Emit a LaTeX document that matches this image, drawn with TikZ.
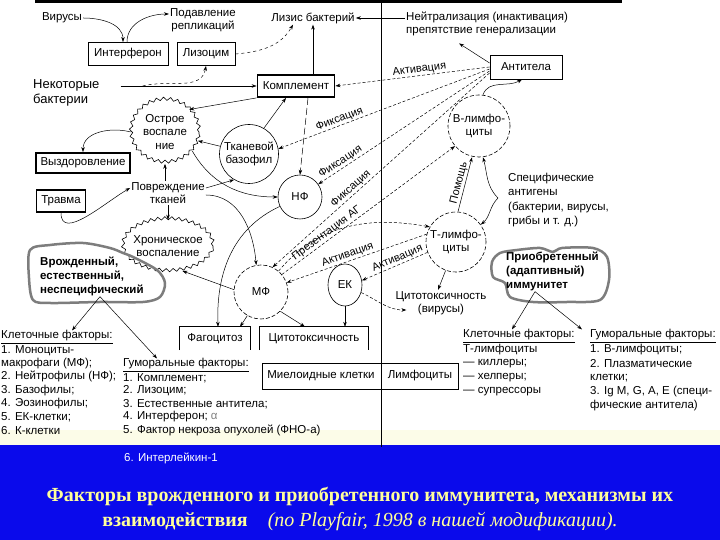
\documentclass[tikz,border=0pt]{standalone}
\usepackage{fontspec}
\setmainfont{Liberation Sans}
\newfontfamily\titlefont{Liberation Serif}
\usepackage{xcolor}
\usepackage{tikz}
\usetikzlibrary{arrows.meta,decorations.pathmorphing,shapes.geometric}

\definecolor{slideblue}{RGB}{10,10,235}
\definecolor{titleyellow}{RGB}{255,255,155}
\definecolor{blobgray}{RGB}{125,125,125}
\definecolor{paleyellow}{RGB}{252,252,232}

\tikzset{
  box/.style={draw, line width=0.9pt, inner sep=2pt, minimum height=23pt},
  heavybox/.style={draw, line width=1.8pt, inner sep=2pt, minimum height=22pt},
  cell/.style={draw, circle, inner sep=0pt, align=center, line width=0.6pt},
  dcell/.style={cell, dash pattern=on 4pt off 2pt},
  txt/.style={align=center, inner sep=1pt},
  item/.style={anchor=west, inner sep=0pt},
  arr/.style={-{Stealth[length=5pt,width=3.5pt]}, line width=0.5pt},
  darr/.style={arr, dash pattern=on 3pt off 2pt},
  lbl/.style={font=\fontsize{11}{12}\selectfont, inner sep=1pt, sloped, above},
  blob/.style={draw=blobgray, line width=2.5pt, line join=round},
  wavy/.style={draw, ellipse, inner sep=0pt, align=center, line width=0.6pt, decorate,
    decoration={snake, amplitude=1.6pt, segment length=7pt}},
}

\begin{document}
\begin{tikzpicture}[x=1pt, y=1pt, font=\fontsize{11.5}{13.5}\selectfont]
\useasboundingbox (0,0) rectangle (720,540);
\fill[white] (0,0) rectangle (720,540);
\fill[paleyellow] (0,95) rectangle (720,110);
\fill[slideblue] (0,0) rectangle (720,95);
\draw[line width=3pt] (35,538.5) -- (622,538.5);
\draw[line width=0.8pt] (381,537) -- (381,93);

% top row
\node[txt] (virus) at (62,522) {Вирусы};
\node[txt] (podavl) at (203,520) {Подавление\\репликаций};
\node[txt] (lizis) at (313,522) {Лизис бактерий};
\node[txt, anchor=west, align=left] (neitr) at (405,516) {Нейтрализация (инактивация)\\препятствие генерализации};
\node[box, minimum width=80pt] (interf) at (128,486) {Интерферон};
\node[box, minimum width=58pt] (lizoc) at (206,486) {Лизоцим};
\node[txt, anchor=west, align=left, font=\fontsize{13}{15}\selectfont] (bakt) at (32,447) {Некоторые\\бактерии};
\node[heavybox, minimum width=77pt] (kompl) at (296,454) {Комплемент};
\node[box, minimum width=72pt, minimum height=24pt] (antit) at (526,473) {Антитела};

% innate side
\node[wavy, minimum width=68pt, minimum height=63pt] (ostr) at (165,408) {Острое\\воспале\\ние};
\node[heavybox, minimum width=94pt, minimum height=20pt] (vyzd) at (83,377) {Выздоровление};
\node[heavybox, minimum width=49pt] (travma) at (61,339) {Травма};
\node[txt] (povr) at (168,347) {Повреждение\\тканей};
\node[wavy, inner xsep=-6pt, minimum width=90pt, minimum height=52pt] (xron) at (168,294) {Хроническое\\воспаление};
\node[cell, minimum size=59pt] (bazo) at (249,386) {Тканевой\\базофил};
\node[cell, minimum size=44pt] (nf) at (300,343) {НФ};
\node[dcell, minimum size=54pt] (mf) at (261,248) {МФ};
\node[cell, ellipse, minimum width=34pt, minimum height=42pt] (ek) at (345,255) {ЕК};
\draw[blob] plot[smooth cycle] coordinates {(30,290) (50,295) (83,297) (110,292) (123,287) (133,283) (157,270) (165,257) (160,243) (143,238) (100,238) (50,237) (33,240) (29,262)};
\node[txt, anchor=west, align=left, font=\fontsize{11.5}{14}\selectfont\bfseries] (vrozh) at (39,264) {Врожденный,\\естественный,\\неспецифический};

% adaptive side
\node[dcell, minimum size=62pt] (blim) at (479,414) {В-лимфо-\\циты};
\node[dcell, minimum size=60pt] (tlim) at (456,298) {Т-лимфо-\\циты};
\node[txt, anchor=west, align=left, font=\fontsize{11.5}{14.5}\selectfont] (spec) at (507,340) {Специфические\\антигены\\(бактерии, вирусы,\\грибы и т. д.)};
\coordinate (specpt) at (498,342);
\node[txt] (cytovir) at (441,237) {Цитотоксичность\\(вирусы)};
\draw[blob] plot[smooth cycle] coordinates {(492,278) (500,287) (517,290) (540,292) (553,288) (562,292) (593,292) (607,283) (609,260) (600,240) (567,238) (533,238) (510,243) (505,257) (493,263)};
\node[txt, anchor=west, align=left, font=\fontsize{11.5}{14}\selectfont\bfseries] (priobr) at (505,269) {Приобретенный\\(адаптивный)\\иммунитет};

% effector boxes
\node[minimum width=70pt, minimum height=23pt] (fag) at (215,201.5) {Фагоцитоз};
\node[minimum width=108pt, minimum height=23pt] (cyto) at (314,201.5) {Цитотоксичность};
\draw[line width=0.8pt] (fag.south west) |- (fag.north east) -- (fag.south east);
\draw[line width=0.8pt] (cyto.south west) |- (cyto.north east) -- (cyto.south east);
\node[draw, line width=0.8pt, minimum width=196pt, minimum height=26pt] (kletki) at (360,164) {};
\node (mieloid) at (321,164) {Миелоидные клетки};
\node (limf) at (420,164) {Лимфоциты};

% factor lists
\foreach \t [count=\i] in {{\underline{Клеточные факторы:}}, {1. Моноциты-}, {макрофаги (МФ);}, {2. Нейтрофилы (НФ);}, {3. Базофилы;}, {4. Эозинофилы;}, {5. ЕК-клетки;}, {6. К-клетки}}
  \node[item] (vkl\i) at (1, 216.3-13.3*\i) {\t};
\foreach \t [count=\i] in {{\underline{Гуморальные факторы:}}, {1. Комплемент;}, {2. Лизоцим;}, {3. Естественные антитела;}, {4. Интерферон; \textcolor{gray}{α}}, {5. Фактор некроза опухолей (ФНО-а)}}
  \node[item] (vgum\i) at (123, 188-13*\i) {\t};
\node[item, text=white] (vgum7) at (124,82) {6. Интерлейкин-1};
\foreach \t [count=\i] in {{\underline{Клеточные факторы:}}, {Т-лимфоциты}, {— киллеры;}, {— хелперы;}, {— супрессоры}}
  \node[item] (pkl\i) at (463, 218-14*\i) {\t};
\foreach \t [count=\i] in {{\underline{Гуморальные факторы:}}, {1. В-лимфоциты;}, {2. Плазматические}, {клетки;}, {3. Ig M, G, A, E (специ-}, {фические антитела)}}
  \node[item] (pgum\i) at (590, 218-14*\i) {\t};

% caption
\node[font=\titlefont\fontsize{20}{23}\selectfont\bfseries, text=titleyellow] (title1) at (360,43) {Факторы врожденного и приобретенного иммунитета, механизмы их};
\node[font=\titlefont\fontsize{20}{23}\selectfont, text=titleyellow] (title2) at (360,18) {\textbf{взаимодействия}\quad\textit{(по Playfair, 1998 в нашей модификации).}};

% connectors: top
\draw[arr] (virus.east) to[out=0,in=90] ([xshift=-5pt]interf.north);
\draw[arr] ([xshift=-1pt]interf.north) to[out=90,in=180] ([yshift=6pt]podavl.west);
\draw[arr, dashed] (lizoc.east) to[out=5,in=-120] ([xshift=-20pt]lizis.south);
\draw[arr] (kompl.north -| lizis.south) -- (lizis.south);
\draw[arr] (neitr.west |- lizis.east) -- (lizis.east);
\draw[arr] ([yshift=4pt]antit.west) -- ([xshift=-28pt,yshift=-6pt]neitr.south);
\draw[arr] ([xshift=20pt]bakt.east |- kompl.west) -- (kompl.west);
\draw[arr, dashed] ([xshift=42pt]bakt.east |- kompl.west) to[out=15,in=-100] (lizoc.south);

% connectors: innate
\draw[arr] (kompl.south west) -- (ostr.north east);
\draw[arr] (bazo.60) -- ([xshift=-10pt]kompl.south);
\draw[arr] (bazo.165) -- (ostr.-15);
\draw[arr, dash pattern=on 7pt off 3pt] ([xshift=12pt]kompl.south) -- (nf.north);
\draw[arr] (ostr.-35) to[out=-60,in=180] (nf.west);
\draw[arr] (ostr.west) to[out=165,in=90] (vyzd.north);
\draw[arr] (travma.south) to[out=-90,in=210] ([yshift=5pt]povr.west);
\draw[arr] (povr.north -| ostr.south) -- (ostr.south);
\draw[arr] (povr.south -| xron.north) -- (xron.north);
\draw[arr] ([yshift=5pt]povr.east) -- (bazo.240);
\draw[arr] ([yshift=-2pt]povr.east) to[out=0,in=95] (mf.100);
\draw[arr] (nf.205) to[out=205,in=92] ([xshift=3pt]fag.north);
\draw[arr] (mf.175) -- (xron.-60);
\draw[arr] (mf.240) -- ([xshift=25pt]fag.north);
\draw[arr] (mf.-45) -- ([xshift=-9pt]cyto.north);
\draw[arr] (ek.south) -- (ek.south |- cyto.north);
\draw[darr] (ek.-25) to[out=-25,in=180] ([xshift=12pt,yshift=-7pt]cytovir.west);
\draw[arr] (tlim.250) -- ([xshift=-3pt]cytovir.north);
\draw[arr] (vrozh.south -| 100,0) -- (vkl1.north -| 72,0);
\draw[arr] (vrozh.south -| 100,0) -- (vgum1.north -| 157,0);
\draw[arr] (priobr.south -| 535,0) -- (pkl1.north -| 512,0);
\draw[arr] (priobr.south -| 535,0) -- (pgum1.north -| 582,0);

% connectors: adaptive
\draw[arr] ([xshift=4pt]blim.north) to[out=70,in=-150] ([xshift=-4pt]antit.south);
\draw[arr] ([xshift=2pt]tlim.north) -- node[lbl]{Помощь} ([xshift=-7pt]blim.south);
\draw[arr] (specpt) to[out=135,in=-75] ([xshift=4pt]blim.south);
\draw[arr] (specpt) to[out=-135,in=40] (tlim.35);
\draw[darr] (antit.west) -- node[lbl, pos=0.45]{Активация} (kompl.east);
\draw[darr] ([yshift=-2pt]antit.west) -- node[lbl, pos=0.7]{Фиксация} (bazo.10);
\draw[darr] ([yshift=-4pt]antit.west) -- node[lbl, pos=0.85]{Фиксация} (nf.35);
\draw[darr] ([yshift=-6pt]antit.west) -- node[lbl, pos=0.62]{Фиксация} (mf.65);
\draw[darr] (mf.40) -- node[lbl, pos=0.28]{Презентация АГ} (blim.220);
\draw[darr] (mf.50) to[out=50,in=170] (tlim.150);
\draw[darr] (tlim.165) -- node[lbl, pos=0.55]{Активация} (mf.20);
\draw[darr] (tlim.200) -- node[lbl, pos=0.42]{Активация} (ek.15);
\end{tikzpicture}
\end{document}
